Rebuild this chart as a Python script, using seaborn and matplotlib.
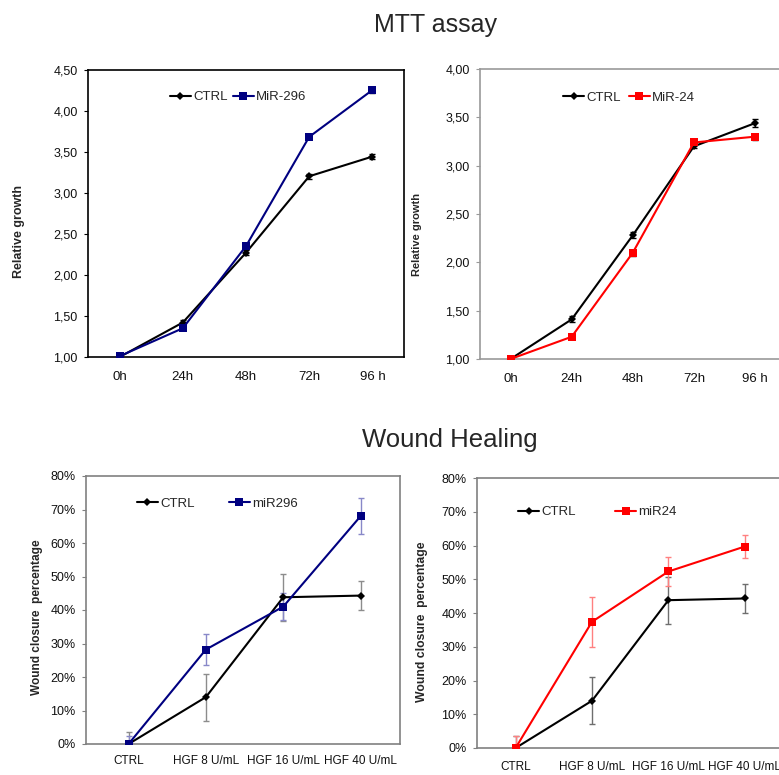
import matplotlib
matplotlib.use("Agg")
import matplotlib.pyplot as plt
from matplotlib.lines import Line2D
import seaborn as sns
import pandas as pd
import numpy as np

sns.set_theme(style="white")
plt.rcParams['font.family'] = 'Liberation Sans'

# ---------------- data ----------------
mtt_times = ["0h", "24h", "48h", "72h", "96 h"]
mtt_ctrl_a = [1.00, 1.42, 2.27, 3.20, 3.44]
mtt_ctrl_a_err = [0.02, 0.03, 0.03, 0.03, 0.03]
mtt_mir296 = [1.01, 1.35, 2.35, 3.68, 4.25]
mtt_mir296_err = [0.02, 0.02, 0.03, 0.02, 0.04]

mtt_ctrl_b = [1.00, 1.41, 2.28, 3.20, 3.44]
mtt_ctrl_b_err = [0.02, 0.03, 0.03, 0.02, 0.04]
mtt_mir24 = [1.00, 1.23, 2.10, 3.24, 3.30]
mtt_mir24_err = [0.02, 0.02, 0.03, 0.02, 0.03]

mtt_yticks_a = [1.0, 1.5, 2.0, 2.5, 3.0, 3.5, 4.0, 4.5]
mtt_ylabels_a = ["1,00", "1,50", "2,00", "2,50", "3,00", "3,50", "4,00", "4,50"]
mtt_yticks_b = [1.0, 1.5, 2.0, 2.5, 3.0, 3.5, 4.0]
mtt_ylabels_b = ["1,00", "1,50", "2,00", "2,50", "3,00", "3,50", "4,00"]

wh_cats = ["CTRL", "HGF 8 U/mL", "HGF 16 U/mL", "HGF 40 U/mL"]
wh_ctrl = [0.0, 14.0, 43.8, 44.3]
wh_ctrl_err = [3.6, 7.0, 7.0, 4.3]
wh_mir296 = [0.0, 28.2, 41.0, 68.0]
wh_mir296_err = [2.5, 4.7, 4.0, 5.3]
wh_mir24 = [0.0, 37.4, 52.3, 59.7]
wh_mir24_err = [3.7, 7.4, 4.3, 3.5]
wh_yticks = [0, 10, 20, 30, 40, 50, 60, 70, 80]
wh_ylabels = ["0%", "10%", "20%", "30%", "40%", "50%", "60%", "70%", "80%"]

NAVY = "#000080"
RED = "#ff0000"

W, H = 779, 775
fig = plt.figure(figsize=(W / 100, H / 100), dpi=100)


def px_axes(left, top, right, bottom):
    return fig.add_axes([left / W, 1 - bottom / H, (right - left) / W, (bottom - top) / H])


def draw_panel(ax, cats, s1, e1, s2, e2, name2, color2, ecol1, ecol2, ecap,
               yticks, ylabels, ylim, xlim, spine_col, ylabel, ylab_pos, ylab_size,
               leg_pos, colsp, xpad, xsize):
    x = np.arange(len(cats))
    df = pd.DataFrame({"x": np.concatenate([x, x]),
                       "y": s1 + s2,
                       "series": ["CTRL"] * len(cats) + [name2] * len(cats)})
    ax.errorbar(x, s1, yerr=e1, fmt="none", ecolor=ecol1, elinewidth=1.0,
                capsize=ecap, capthick=1.0, zorder=2)
    ax.errorbar(x, s2, yerr=e2, fmt="none", ecolor=ecol2, elinewidth=1.0,
                capsize=ecap, capthick=1.0, zorder=2)
    sns.lineplot(data=df, x="x", y="y", hue="series", style="series",
                 palette={"CTRL": "black", name2: color2},
                 markers={"CTRL": "D", name2: "s"}, dashes=False,
                 markersize=5.5, linewidth=1.5, markeredgewidth=0,
                 legend=False, ax=ax, zorder=3)
    for ln in ax.get_lines():
        if ln.get_marker() == "D":
            ln.set_markersize(4.0)
    ax.set_xlim(*xlim)
    ax.set_ylim(*ylim)
    ax.set_xticks(x)
    ax.set_xticklabels(cats, fontsize=xsize)
    ax.set_yticks(yticks)
    ax.set_yticklabels(ylabels, fontsize=9)
    ax.tick_params(axis="x", length=0, pad=xpad, colors="#111111")
    ax.tick_params(axis="y", length=3, width=0.8, direction="out", pad=4.5,
                   color=spine_col, labelcolor="#111111", left=True)
    ax.set_xlabel("")
    ax.set_ylabel("")
    for sp in ax.spines.values():
        sp.set_color(spine_col)
        sp.set_linewidth(1.2)
    ax.grid(False)
    ax.text(ylab_pos[0], ylab_pos[1], ylabel, rotation=90, ha="center", va="center",
            fontsize=ylab_size, fontweight="bold", transform=ax.transAxes)
    handles = [Line2D([], [], color="black", marker="D", markersize=4, lw=1.5, markeredgewidth=0),
               Line2D([], [], color=color2, marker="s", markersize=5.5, lw=1.5, markeredgewidth=0)]
    ax.legend(handles, ["CTRL", name2], ncol=2, frameon=False, loc="center left",
              bbox_to_anchor=leg_pos, borderpad=0, borderaxespad=0,
              handlelength=1.6, handletextpad=0.15, columnspacing=colsp,
              fontsize=9.5)


# Panel 1: MTT CTRL vs MiR-296
ax1 = px_axes(88, 69.5, 404, 357)
draw_panel(ax1, mtt_times, mtt_ctrl_a, mtt_ctrl_a_err, mtt_mir296, mtt_mir296_err,
           "MiR-296", NAVY, "black", "black", 2,
           mtt_yticks_a, mtt_ylabels_a, (1.0, 4.5), (-0.5, 4.5), "black",
           "Relative growth", (-0.218, 0.438), 9, (0.259, 0.904), 0.4, 10, 9.5)

# Panel 2: MTT CTRL vs MiR-24
ax2 = px_axes(480, 69, 785.6, 359)
draw_panel(ax2, mtt_times, mtt_ctrl_b, mtt_ctrl_b_err, mtt_mir24, mtt_mir24_err,
           "MiR-24", RED, "black", "black", 2,
           mtt_yticks_b, mtt_ylabels_b, (1.0, 4.0), (-0.5, 4.5), "#999999",
           "Relative growth", (-0.206, 0.431), 8, (0.272, 0.901), 0.6, 10, 9.5)

# Panel 3: Wound healing CTRL vs miR296
ax3 = px_axes(86, 476, 400, 744)
draw_panel(ax3, wh_cats, wh_ctrl, wh_ctrl_err, wh_mir296, wh_mir296_err,
           "miR296", NAVY, "#8c8c8c", "#8888c8", 2,
           wh_yticks, wh_ylabels, (0, 80), (-0.55, 3.51), "#808080",
           "Wound closure  percentage", (-0.156, 0.472), 8.6, (0.162, 0.896), 2.6, 8, 8.5)

# Panel 4: Wound healing CTRL vs miR24
ax4 = px_axes(477, 478, 783, 748)
draw_panel(ax4, wh_cats, wh_ctrl, wh_ctrl_err, wh_mir24, wh_mir24_err,
           "miR24", RED, "#6e6e6e", "#ff8080", 2,
           wh_yticks, wh_ylabels, (0, 80), (-0.505, 3.5), "#808080",
           "Wound closure  percentage", (-0.18, 0.467), 8.8, (0.134, 0.874), 3.0, 9, 8.5)

fig.text(435 / W, 1 - 25 / H, "MTT assay", fontsize=18, ha="center", va="center")
fig.text(450 / W, 1 - 440 / H, "Wound Healing", fontsize=18.5, ha="center", va="center")

fig.savefig("out.png", dpi=100)
